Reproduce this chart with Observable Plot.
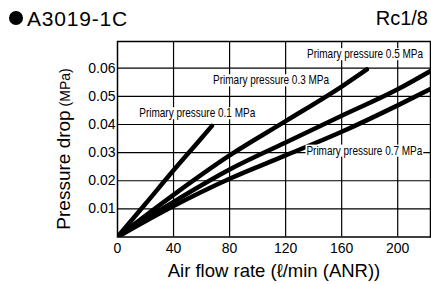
<!DOCTYPE html>
<html>
<head>
<meta charset="utf-8">
<script src="https://cdn.jsdelivr.net/npm/d3@7"></script>
<script src="https://cdn.jsdelivr.net/npm/@observablehq/plot@0.6"></script>
<style>
  html, body { margin: 0; padding: 0; background: #fff; }
  #wrap { position: relative; width: 431px; height: 284px; font-family: "Liberation Sans", Arial, sans-serif; color: #000; }
  #wrap svg { position: absolute; left: 0; top: 0; }
  .abs { position: absolute; white-space: nowrap; line-height: 1; }
</style>
</head>
<body>
<div id="wrap"></div>
<script>
// ---- data ----
const xTicks = [0, 40, 80, 120, 160, 200];
const yTicks = [0.01, 0.02, 0.03, 0.04, 0.05, 0.06];

const flow01 = [0, 20, 40, 60, 67.4];
const drop01 = [0, 0.0118, 0.0237, 0.0352, 0.0395];

const flow03 = [0, 40, 80, 120, 160, 178];
const drop03 = [0, 0.0150, 0.0290, 0.0412, 0.0535, 0.0596];

const flow05 = [0, 40, 80, 120, 160, 200, 223.4];
const drop05 = [0, 0.0125, 0.0240, 0.0336, 0.0431, 0.0525, 0.0590];

const flow07 = [0, 40, 80, 120, 160, 200, 223.4];
const drop07 = [0, 0.0110, 0.0207, 0.0290, 0.0374, 0.0468, 0.0526];

const seriesNames = ["Primary pressure 0.1 MPa", "Primary pressure 0.3 MPa", "Primary pressure 0.5 MPa", "Primary pressure 0.7 MPa"];
const labelX = [56.9, 109.6, 176.7, 176.2];
const labelY = [0.0440, 0.0557, 0.0650, 0.0307];

const titleText = "A3019-1C";
const portText = "Rc1/8";
const xLabel = "Air flow rate (ℓ/min (ANR))";
const yLabelMain = "Pressure drop";
const yLabelUnit = "(MPa)";

// ---- build ----
const flows = [flow01, flow03, flow05, flow07];
const drops = [drop01, drop03, drop05, drop07];
const rows = [];
flows.forEach((f, s) => f.forEach((x, i) => rows.push({series: seriesNames[s], x, y: drops[s][i]})));
const labels = seriesNames.map((name, i) => ({name, x: labelX[i], y: labelY[i]}));

const chart = Plot.plot({
  width: 431,
  height: 284,
  marginLeft: 117,
  marginRight: 1,
  marginTop: 41,
  marginBottom: 47.5,
  x: {domain: [0, 223.4]},
  y: {domain: [0, 0.0695]},
  style: {fontFamily: "'Liberation Sans', Arial, sans-serif", background: "white", color: "black"},
  marks: [
    Plot.gridX(xTicks.slice(1), {stroke: "black", strokeOpacity: 1, strokeWidth: 1.2}),
    Plot.gridY(yTicks, {stroke: "black", strokeOpacity: 1, strokeWidth: 1.2}),
    Plot.frame({stroke: "black", strokeWidth: 1.5}),
    Plot.axisX(xTicks, {tickSize: 0, tickPadding: 6, fontSize: 14, label: null}),
    Plot.axisY(yTicks, {tickSize: 0, tickPadding: 2, fontSize: 14, label: null, tickFormat: d => d.toFixed(2)}),
    Plot.line(rows, {x: "x", y: "y", z: "series", stroke: "black", strokeWidth: 4.5, curve: "monotone-x", clip: true}),
    Plot.text(labels, {x: "x", y: "y", text: "name", fontSize: 12.5, fontFamily: "'Liberation Sans', Arial, sans-serif", fill: "black"})
  ]
});

const wrap = document.getElementById("wrap");
wrap.appendChild(chart);

// condense curve labels (narrow face) and put white boxes behind them
const SX = 0.8;
d3.select(chart).selectAll('g[aria-label="text"] text').each(function() {
  const parent = this.parentNode;
  const bb = this.getBBox();
  const m = parent.getCTM().inverse().multiply(this.getCTM());
  const x0 = bb.x + m.e, y0 = bb.y + m.f;
  const cx = x0 + bb.width / 2;
  const wrapper = document.createElementNS("http://www.w3.org/2000/svg", "g");
  wrapper.setAttribute("transform", `translate(${cx},0) scale(${SX},1) translate(${-cx},0)`);
  parent.insertBefore(wrapper, this);
  const rect = document.createElementNS("http://www.w3.org/2000/svg", "rect");
  rect.setAttribute("x", x0 - 1);
  rect.setAttribute("y", y0 + 1);
  rect.setAttribute("width", bb.width + 2);
  rect.setAttribute("height", bb.height - 2);
  rect.setAttribute("fill", "white");
  wrapper.appendChild(rect);
  wrapper.appendChild(this);
});

function addDiv(text, css) {
  const d = document.createElement("div");
  d.className = "abs";
  d.textContent = text;
  Object.assign(d.style, css);
  wrap.appendChild(d);
  return d;
}

// title
const dot = document.createElement("div");
Object.assign(dot.style, {position: "absolute", left: "9px", top: "11px", width: "14px", height: "14px", borderRadius: "50%", background: "black"});
wrap.appendChild(dot);
addDiv(titleText, {left: "27px", top: "8px", fontSize: "21px", letterSpacing: "0.8px"});
addDiv(portText, {right: "3px", top: "8px", fontSize: "20px"});

// x label
addDiv(xLabel, {left: "274px", top: "262px", fontSize: "18.5px", transform: "translateX(-50%)"});

// y label
const yl = document.createElement("div");
yl.className = "abs";
Object.assign(yl.style, {left: "63px", top: "149px", transform: "translate(-50%,-50%) rotate(-90deg)"});
const s1 = document.createElement("span"); s1.textContent = yLabelMain; s1.style.fontSize = "19px";
const s2 = document.createElement("span"); s2.textContent = " " + yLabelUnit; s2.style.fontSize = "14px";
yl.appendChild(s1); yl.appendChild(s2);
wrap.appendChild(yl);
</script>
</body>
</html>
